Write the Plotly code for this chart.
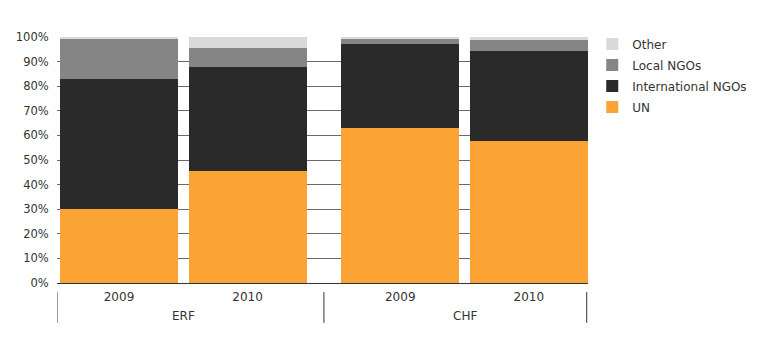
import plotly.graph_objects as go

groups = ["ERF", "ERF", "CHF", "CHF"]
years = ["2009", "2010", "2009", "2010"]
un = [30.0, 45.5, 63.0, 57.7]
intl_ngos = [53.0, 42.3, 34.2, 36.8]
local_ngos = [16.0, 7.7, 2.0, 4.3]
other = [1.0, 4.5, 0.8, 1.2]
y_ticks = [0, 10, 20, 30, 40, 50, 60, 70, 80, 90, 100]

# x positions: pitch 1 within group, extra gap between groups
group_gap = 0.187
xpos = []
gi = -1
prev = None
for i, g in enumerate(groups):
    if g != prev:
        gi += 1
        prev = g
    xpos.append(i + gi * group_gap)

series = [
    ("UN", un, "#FBA435"),
    ("International NGOs", intl_ngos, "#2A2A2A"),
    ("Local NGOs", local_ngos, "#858585"),
    ("Other", other, "#D9D9D9"),
]

fig = go.Figure()
n = len(series)
for k, (name, vals, col) in enumerate(series):
    fig.add_trace(go.Bar(x=xpos, y=vals, name=name, legendgroup=name, legendrank=n - k,
                         marker=dict(color=col, line=dict(width=0)), width=0.918))

font_fam = "DejaVu Sans, sans-serif"
txt = "#333333"

x_left = xpos[0] - 0.482
x_right = xpos[-1] + 0.46

unique_groups = []
for g in groups:
    if g not in unique_groups:
        unique_groups.append(g)
bounds = [x_left]
for g in unique_groups:
    idx = [i for i, gg in enumerate(groups) if gg == g]
    centre = (xpos[idx[0]] + xpos[idx[-1]]) / 2
    fig.add_annotation(x=centre, y=-0.134, xref="x", yref="paper", text=g, showarrow=False,
                       yanchor="middle", font=dict(size=12, color=txt, family=font_fam))
for k in range(len(unique_groups) - 1):
    last = max(i for i, gg in enumerate(groups) if gg == unique_groups[k])
    bounds.append((xpos[last] + xpos[last + 1]) / 2)
bounds.append(x_right - 0.01)
for b in bounds:
    fig.add_shape(type="line", x0=b, x1=b, y0=-0.037, y1=-0.162, xref="x", yref="paper",
                  line=dict(color="#333333", width=1))

fig.update_layout(
    barmode="stack",
    width=759, height=344,
    margin=dict(l=57, r=171, t=37, b=61, autoexpand=False),
    paper_bgcolor="white", plot_bgcolor="white",
    bargap=0,
    font=dict(family=font_fam, size=12, color=txt),
    legend=dict(traceorder="grouped", x=1.008, y=1.03, xanchor="left", yanchor="top",
                font=dict(size=12, color=txt), itemwidth=30, tracegroupgap=2),
    showlegend=True,
)
fig.update_xaxes(range=[x_left, x_right], tickvals=xpos, ticktext=years, showgrid=False,
                 zeroline=False, showline=False, ticks="outside", ticklen=3,
                 tickcolor="rgba(0,0,0,0)", tickfont=dict(size=12, color=txt))
fig.update_yaxes(range=[0, 100], tickvals=y_ticks, ticktext=[f"{v}%" for v in y_ticks],
                 showgrid=True, gridcolor="#6a6a6a", gridwidth=1, zeroline=True,
                 zerolinecolor="#333333", zerolinewidth=1, showline=False,
                 tickfont=dict(size=11.5, color=txt), ticks="outside", ticklen=5,
                 tickcolor="rgba(0,0,0,0)")

fig.write_html("out.html")
